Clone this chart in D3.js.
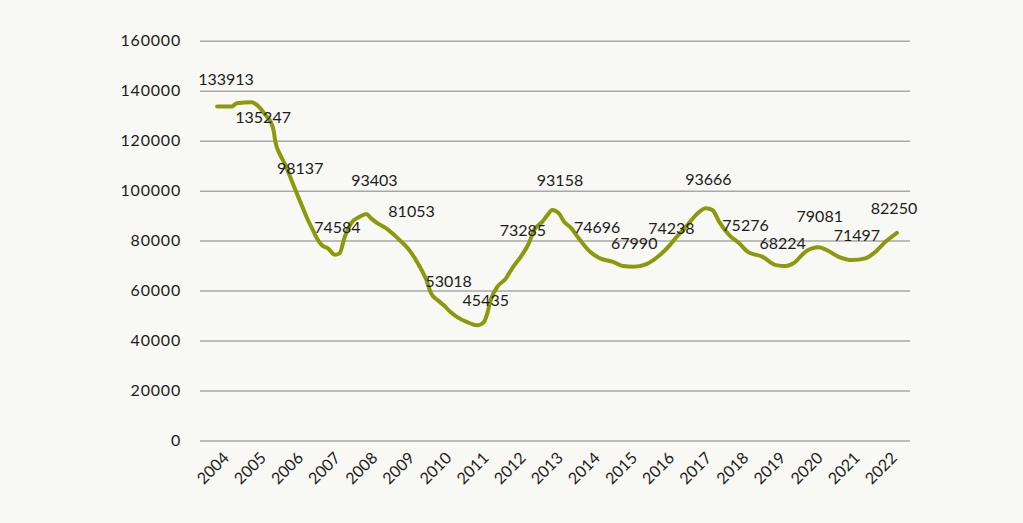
<!DOCTYPE html>
<html>
<head>
<meta charset="utf-8">
<script src="https://cdn.jsdelivr.net/npm/d3@7"></script>
<style>
  html, body { margin: 0; padding: 0; background: #f8f8f4; }
  svg { display: block; }
  .tick-label, .data-label { font-family: Lato, 'Open Sans', sans-serif; font-size: 16px; fill: #1c1c1c; }
  .y-label { letter-spacing: 0.8px; }
  .axis-grid line { stroke: #a8a8a8; stroke-width: 1.5; }
</style>
</head>
<body>
<div id="chart"></div>
<script>
// annual values (data labels)
const years = [2004, 2005, 2006, 2007, 2008, 2009, 2010, 2011, 2012, 2013, 2014, 2015, 2016, 2017, 2018, 2019, 2020, 2021, 2022];
const annualValues = [133913, 135247, 98137, 74584, 93403, 81053, 53018, 45435, 73285, 93158, 74696, 67990, 74238, 93666, 75276, 68224, 79081, 71497, 82250];
const labelsBelow = [2005];

// smoothed trend line (decimal years)
const trendYears = [2003.76, 2004.16, 2004.29, 2004.70, 2004.83, 2005.06, 2005.24, 2005.28, 2005.33, 2005.46, 2005.60, 2005.78,
  2006.00, 2006.23, 2006.32, 2006.45, 2006.58, 2006.75, 2006.93, 2007.06, 2007.20, 2007.37, 2007.60, 2007.78, 2007.91,
  2008.09, 2008.32, 2008.63, 2008.90, 2009.17, 2009.40, 2009.53, 2009.71, 2009.87, 2010.05, 2010.23, 2010.50, 2010.77,
  2010.95, 2011.04, 2011.13, 2011.31, 2011.54, 2011.71, 2011.94, 2012.16, 2012.30, 2012.52, 2012.66, 2012.79, 2012.97,
  2013.11, 2013.27, 2013.54, 2013.81, 2014.08, 2014.43, 2014.70, 2014.97, 2015.33, 2015.69, 2015.96, 2016.07, 2016.39,
  2016.66, 2016.93, 2017.11, 2017.29, 2017.56, 2017.83, 2018.06, 2018.46, 2018.82, 2019.09, 2019.29, 2019.61, 2019.97,
  2020.15, 2020.51, 2020.87, 2021.23, 2021.50, 2021.77, 2022.08];
const trendValues = [133700, 133700, 135000, 135400, 134300, 130300, 126300, 124300, 119600, 114300, 110300, 103600,
  95600, 87500, 84900, 80900, 78200, 76900, 74300, 74900, 81500, 86900, 89500, 90600, 88900,
  86900, 84900, 80900, 76900, 70900, 64200, 58800, 56100, 54100, 51400, 49400, 47400, 46100,
  47400, 50800, 56100, 61500, 64800, 68900, 73500, 78900, 84200, 87500, 90200, 92200, 90900,
  87500, 85500, 80200, 75500, 72900, 71500, 69800, 69500, 70600, 74200, 78200, 80200, 85500,
  90200, 92900, 92200, 87500, 82200, 78900, 75500, 73500, 70200, 69800, 70900, 75500, 77300,
  76500, 73500, 72200, 72900, 75500, 79500, 83100];

const yTicks = [0, 20000, 40000, 60000, 80000, 100000, 120000, 140000, 160000];

const width = 1023, height = 523;
const plotLeft = 200, plotRight = 910;

const svg = d3.select('#chart')
  .append('svg')
  .attr('width', width)
  .attr('height', height);

const x = d3.scaleLinear().domain([2004, 2022]).range([226, 894]);
const y = d3.scaleLinear().domain([0, 160000]).range([440.5, 40.7]);

// gridlines
const yAxisGrid = d3.axisRight(y)
  .tickValues(yTicks)
  .tickSize(plotRight - plotLeft)
  .tickFormat('');
svg.append('g')
  .attr('class', 'axis-grid')
  .attr('transform', `translate(${plotLeft},0)`)
  .call(yAxisGrid)
  .call(g => g.select('.domain').remove());

// y labels
svg.append('g')
  .selectAll('text')
  .data(yTicks)
  .enter()
  .append('text')
  .attr('class', 'tick-label y-label')
  .attr('x', 181)
  .attr('y', d => y(d))
  .attr('dy', '0.36em')
  .attr('text-anchor', 'end')
  .text(d => d);

// x labels, rotated
svg.append('g')
  .selectAll('text')
  .data(years)
  .enter()
  .append('text')
  .attr('class', 'tick-label')
  .attr('text-anchor', 'end')
  .attr('transform', d => `translate(${x(d) + 4},459) rotate(-45)`)
  .text(d => d);

const trend = trendYears.map((t, i) => ({ t: t, v: trendValues[i] }));

const line = d3.line()
  .x(d => x(d.t))
  .y(d => y(d.v))
  .curve(d3.curveMonotoneX);

svg.append('path')
  .attr('d', line(trend))
  .attr('fill', 'none')
  .attr('stroke', '#8a9a0c')
  .attr('stroke-width', 4)
  .attr('stroke-linecap', 'round')
  .attr('stroke-linejoin', 'round');

// data labels
svg.append('g')
  .selectAll('text')
  .data(years)
  .enter()
  .append('text')
  .attr('class', 'data-label')
  .attr('text-anchor', 'middle')
  .attr('x', d => x(d))
  .attr('y', (d, i) => y(annualValues[i]) + (labelsBelow.includes(d) ? 15 : -27))
  .attr('dy', '0.36em')
  .text((d, i) => annualValues[i]);
</script>
</body>
</html>
